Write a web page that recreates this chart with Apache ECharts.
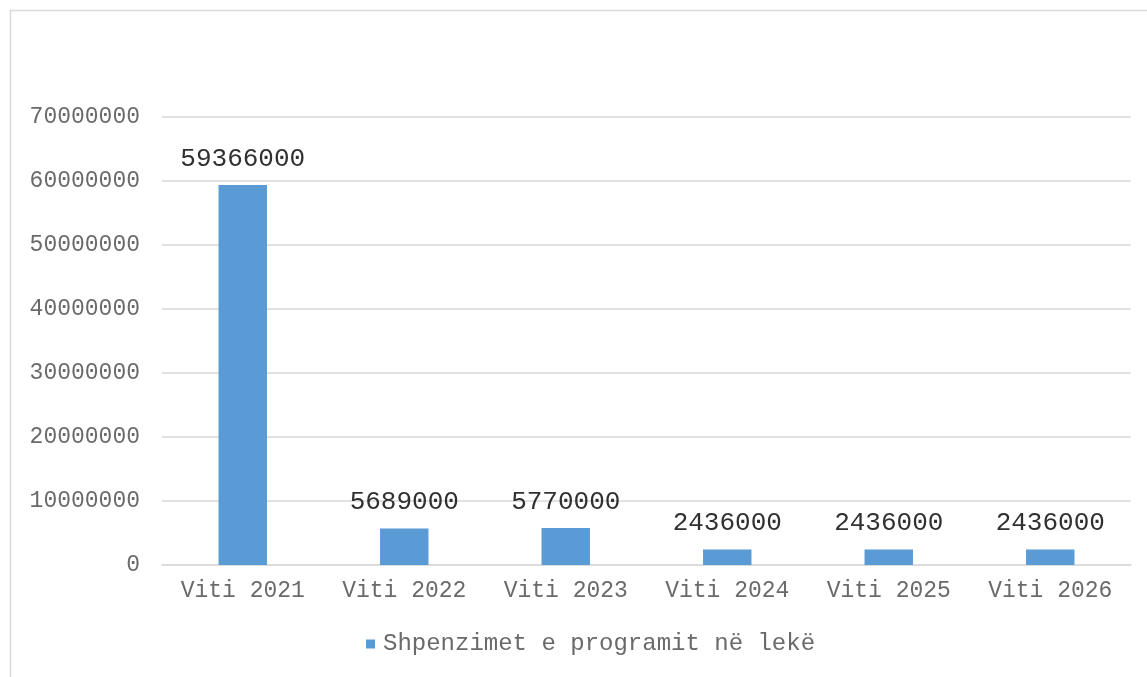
<!DOCTYPE html>
<html>
<head>
<meta charset="utf-8">
<script src="https://cdn.jsdelivr.net/npm/echarts@6/dist/echarts.min.js"></script>
<style>
html,body{margin:0;padding:0;background:#fff;}
#c{width:1147px;height:677px;}
</style>
</head>
<body>
<div id="c"></div>
<script>
const categories = ['Viti 2021','Viti 2022','Viti 2023','Viti 2024','Viti 2025','Viti 2026'];
const values = [59366000, 5689000, 5770000, 2436000, 2436000, 2436000];
const seriesName = 'Shpenzimet e programit në lekë';
const yTicks = [0, 10000000, 20000000, 30000000, 40000000, 50000000, 60000000, 70000000];

const font = '"Liberation Mono", "Courier New", monospace';
const chart = echarts.init(document.getElementById('c'), null, {renderer:'canvas'});
chart.setOption({
  animation:false,
  backgroundColor:'#fff',
  graphic:[{
    type:'rect', left:8, top:8, silent:true,
    shape:{width:1150, height:700},
    style:{fill:'none', stroke:'#d9d9d9', lineWidth:1.5}
  }],
  grid:{left:162, right:16, top:117, bottom:112, containLabel:false},
  legend:{
    data:[seriesName], bottom:16, left:361,
    itemWidth:9, itemHeight:9, icon:'rect', itemGap:8,
    textStyle:{fontFamily:font, fontSize:24, color:'#6a6a6a', padding:[0,0,0,3]}
  },
  xAxis:{
    type:'category', data:categories,
    axisLine:{lineStyle:{color:'#d9d9d9', width:1.5}},
    axisTick:{show:false},
    axisLabel:{fontFamily:font, fontSize:23, color:'#6a6a6a', margin:14, interval:0}
  },
  yAxis:{
    type:'value', min:yTicks[0], max:yTicks[yTicks.length-1], interval:yTicks[1]-yTicks[0],
    axisLine:{show:false}, axisTick:{show:false},
    splitLine:{lineStyle:{color:'#d9d9d9', width:1.5}},
    axisLabel:{fontFamily:font, fontSize:23, color:'#6a6a6a', margin:22, formatter:v => String(v)}
  },
  series:[{
    name:seriesName, type:'bar', data:values, barWidth:'30%',
    itemStyle:{color:'#5b9bd5'},
    label:{show:true, position:'top', distance:13, fontFamily:font, fontSize:26, color:'#303030'}
  }]
});
</script>
</body>
</html>
